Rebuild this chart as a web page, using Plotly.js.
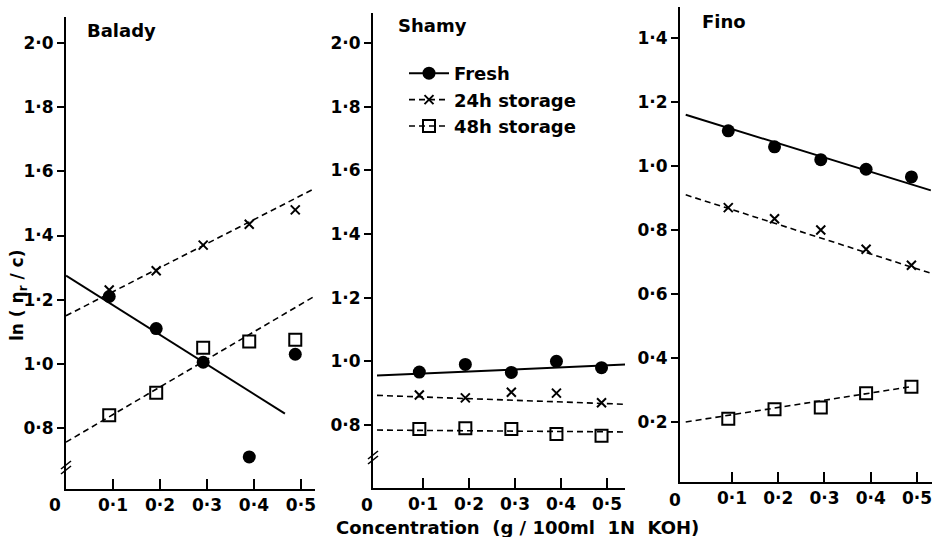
<!DOCTYPE html>
<html><head><meta charset="utf-8">
<script src="https://cdn.plot.ly/plotly-3.0.1.min.js"></script>
<style>html,body{margin:0;padding:0;background:#fff}#c{width:941px;height:537px}</style>
</head><body><div id="c"></div>
<script>
// ---- data ----
const concX = [0.092, 0.192, 0.292, 0.39, 0.488];
const xTickVals = [0.1, 0.2, 0.3, 0.4, 0.5];
const xTickText = ["0·1", "0·2", "0·3", "0·4", "0·5"];
const yTickValsA = [0.8, 1.0, 1.2, 1.4, 1.6, 1.8, 2.0];
const yTickTextA = ["0·8", "1·0", "1·2", "1·4", "1·6", "1·8", "2·0"];
const yTickValsF = [0.2, 0.4, 0.6, 0.8, 1.0, 1.2, 1.4];
const yTickTextF = ["0·2", "0·4", "0·6", "0·8", "1·0", "1·2", "1·4"];
const cultivars = ["Balady", "Shamy", "Fino"];
const seriesNames = ["Fresh", "24h storage", "48h storage"];

const baladyFresh = [1.21, 1.11, 1.005, 0.71, 1.03];
const balady24h   = [1.23, 1.29, 1.37, 1.435, 1.48];
const balady48h   = [0.84, 0.91, 1.05, 1.07, 1.075];
const shamyFresh  = [0.966, 0.99, 0.965, 1.0, 0.98];
const shamy24h    = [0.894, 0.885, 0.903, 0.9, 0.87];
const shamy48h    = [0.787, 0.79, 0.787, 0.772, 0.766];
const finoFresh   = [1.11, 1.06, 1.02, 0.99, 0.966];
const fino24h     = [0.87, 0.835, 0.80, 0.74, 0.69];
const fino48h     = [0.21, 0.24, 0.245, 0.29, 0.31];

// fitted lines: [x start, x end] and [y start, y end]
const baladyFreshFitX = [0, 0.466], baladyFreshFitY = [1.275, 0.845];
const balady24hFitX   = [0, 0.534], balady24hFitY   = [1.15, 1.55];
const balady48hFitX   = [0, 0.534], balady48hFitY   = [0.756, 1.215];
const shamyFreshFitX  = [0, 0.54],  shamyFreshFitY  = [0.955, 0.99];
const shamy24hFitX    = [0, 0.54],  shamy24hFitY    = [0.893, 0.865];
const shamy48hFitX    = [0, 0.54],  shamy48hFitY    = [0.784, 0.778];
const finoFreshFitX   = [0, 0.53],  finoFreshFitY   = [1.16, 0.924];
const fino24hFitX     = [0, 0.53],  fino24hFitY     = [0.91, 0.665];
const fino48hFitX     = [0, 0.485], fino48hFitY     = [0.20, 0.31];

// ---- styles ----
const FONT = "DejaVu Sans";
const TF = {family:FONT, size:17, color:"#000", weight:"bold"};
const LF = {family:FONT, size:18, color:"#000", weight:"bold"};
const styles = [
  {marker:{symbol:"circle", size:13, color:"#000"}, line:{color:"#000", width:2}},
  {marker:{symbol:"x-thin", size:9, color:"#000", line:{color:"#000", width:2}}, line:{color:"#000", width:1.6, dash:"6px,4px"}},
  {marker:{symbol:"square-open", size:12, color:"#000", line:{color:"#000", width:2}}, line:{color:"#000", width:1.6, dash:"6px,4px"}}
];

const panels = [
  {pts:[baladyFresh, balady24h, balady48h], fx:[baladyFreshFitX, balady24hFitX, balady48hFitX], fy:[baladyFreshFitY, balady24hFitY, balady48hFitY]},
  {pts:[shamyFresh, shamy24h, shamy48h], fx:[shamyFreshFitX, shamy24hFitX, shamy48hFitX], fy:[shamyFreshFitY, shamy24hFitY, shamy48hFitY]},
  {pts:[finoFresh, fino24h, fino48h], fx:[finoFreshFitX, fino24hFitX, fino48hFitX], fy:[finoFreshFitY, fino24hFitY, fino48hFitY]}
];

const traces = [];
panels.forEach((p, i) => {
  const xa = i === 0 ? "x" : "x" + (i + 1);
  const ya = i === 0 ? "y" : "y" + (i + 1);
  for (let s = 0; s < 3; s++) {
    traces.push({x:p.fx[s], y:p.fy[s], xaxis:xa, yaxis:ya, mode:"lines", line:styles[s].line, showlegend:false, hoverinfo:"skip"});
    traces.push({x:concX, y:p.pts[s], xaxis:xa, yaxis:ya, mode:"markers", marker:styles[s].marker, showlegend:false, cliponaxis:false});
  }
});
// legend entries
for (let s = 0; s < 3; s++) {
  traces.push({x:[null], y:[null], xaxis:"x2", yaxis:"y2", mode:"lines+markers", name:seriesNames[s],
    marker:styles[s].marker, line:styles[s].line, showlegend:true});
}

const W = 941, H = 537;
const px = v => v / W, py = v => (H - v) / H;

function xAxis(d0, d1, r, anchor) {
  return {domain:[px(d0), px(d1)], range:r, anchor:anchor, showgrid:false, zeroline:false,
    showline:true, linecolor:"#000", linewidth:2, ticks:"inside", ticklen:10, tickwidth:2, tickcolor:"#000",
    tickvals:xTickVals, ticktext:xTickText, tickfont:TF, fixedrange:true};
}
function yAxis(d0, d1, r, anchor, tv, tt) {
  return {domain:[py(d1), py(d0)], range:r, anchor:anchor, showgrid:false, zeroline:false,
    showline:true, linecolor:"#000", linewidth:2, ticks:"outside", ticklen:7, tickwidth:2, tickcolor:"#000",
    tickvals:tv, ticktext:tt, tickfont:TF, fixedrange:true};
}

function ann(text, x, y, extra) {
  return Object.assign({text:text, x:px(x), y:py(y), xref:"paper", yref:"paper", xanchor:"center", yanchor:"middle", showarrow:false, font:TF}, extra || {});
}
const annotations = [
  ann("Balady", 85, 30, {xanchor:"left", font:LF}),
  ann("Shamy", 396, 25, {xanchor:"left", font:LF}),
  ann("Fino", 700, 22, {xanchor:"left", font:LF}),
  ann("ln ( η<sub>r</sub> / c)", 18, 296, {textangle:-90}),
  ann("Concentration  (g / 100ml  1N  KOH)", 517, 527, {font:LF}),
  ann("0", 55, 505),
  ann("0", 367, 505),
  ann("0", 675, 500)
];

function breakMark(ax, ay) {
  return [
    {type:"line", xref:"paper", yref:"paper", x0:px(ax - 5), y0:py(ay + 3), x1:px(ax + 5), y1:py(ay - 5), line:{color:"#000", width:1.6}},
    {type:"line", xref:"paper", yref:"paper", x0:px(ax - 5), y0:py(ay + 8), x1:px(ax + 5), y1:py(ay), line:{color:"#000", width:1.6}}
  ];
}
const shapes = [].concat(breakMark(66, 466), breakMark(373, 456));

const layout = {
  width:W, height:H, margin:{l:0, r:0, t:0, b:0}, paper_bgcolor:"#fff", plot_bgcolor:"#fff",
  showlegend:true,
  legend:{x:px(404), y:py(55), xanchor:"left", yanchor:"top", bgcolor:"rgba(0,0,0,0)", font:LF, tracegroupgap:0, itemwidth:40},
  xaxis: xAxis(66, 315, [0, 0.53], "y"),
  yaxis: yAxis(17, 489, [0.61, 2.081], "x", yTickValsA, yTickTextA),
  xaxis2: xAxis(373, 625, [-0.0087, 0.539], "y2"),
  yaxis2: yAxis(13, 488, [0.602, 2.094], "x2", yTickValsA, yTickTextA),
  xaxis3: xAxis(680, 932, [-0.0124, 0.5325], "y3"),
  yaxis3: yAxis(7, 482, [0.0125, 1.497], "x3", yTickValsF, yTickTextF),
  annotations:annotations, shapes:shapes
};

Plotly.newPlot("c", traces, layout, {displayModeBar:false, staticPlot:true});
</script></body></html>
